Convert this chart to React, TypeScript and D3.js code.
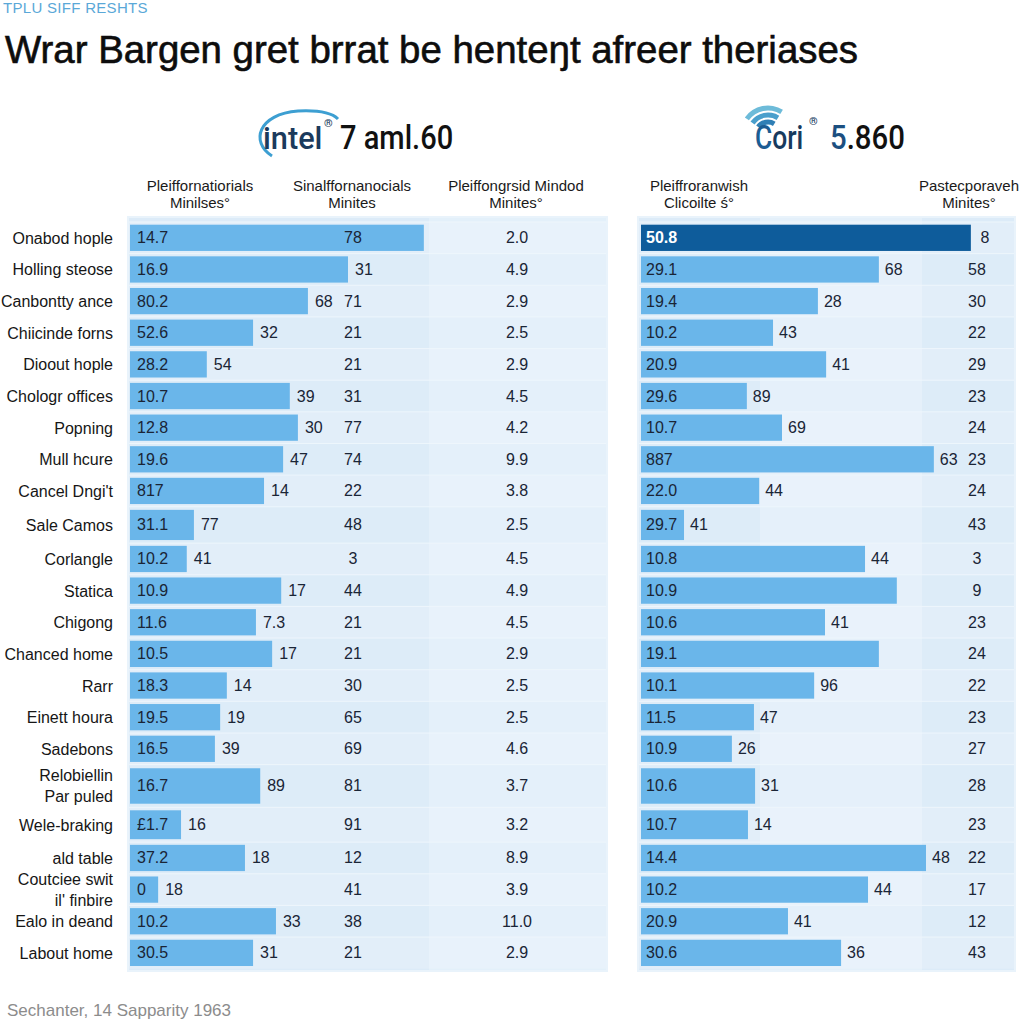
import React from "react";
import * as d3 from "d3";

const rowLabels = ["Onabod hople", "Holling steose", "Canbontty ance", "Chiicinde forns", "Dioout hople", "Chologr offices", "Popning", "Mull hcure", "Cancel Dngi't", "Sale Camos", "Corlangle", "Statica", "Chigong", "Chanced home", "Rarr", "Einett houra", "Sadebons", "Relobiellin\nPar puled", "Wele-braking", "ald table", "Coutciee swit\nil' finbire", "Ealo in deand", "Labout home"];

// left panel (intel)
const leftBar = [61.6, 45.7, 37.3, 25.8, 16.1, 33.5, 35.2, 32.1, 28.1, 13.4, 11.9, 31.7, 26.4, 29.8, 20.3, 18.9, 17.8, 27.3, 10.7, 24.1, 5.9, 30.6, 25.8];
const leftInside = ["14.7", "16.9", "80.2", "52.6", "28.2", "10.7", "12.8", "19.6", "817", "31.1", "10.2", "10.9", "11.6", "10.5", "18.3", "19.5", "16.5", "16.7", "£1.7", "37.2", "0", "10.2", "30.5"];
const leftEnd = ["", "31", "68", "32", "54", "39", "30", "47", "14", "77", "41", "17", "7.3", "17", "14", "19", "39", "89", "16", "18", "18", "33", "31"];
const leftCol3 = ["78", "", "71", "21", "21", "31", "77", "74", "22", "48", "3", "44", "21", "21", "30", "65", "69", "81", "91", "12", "41", "38", "21"];
const leftCol4 = ["2.0", "4.9", "2.9", "2.5", "2.9", "4.5", "4.2", "9.9", "3.8", "2.5", "4.5", "4.9", "4.5", "2.9", "2.5", "2.5", "4.6", "3.7", "3.2", "8.9", "3.9", "11.0", "2.9"];

// right panel (Cori)
const rightBar = [88.2, 63.6, 47.3, 35.3, 49.5, 28.3, 37.7, 78.3, 31.6, 11.5, 59.9, 68.4, 49.2, 63.6, 46.3, 30.2, 24.3, 30.5, 28.6, 76.2, 60.7, 39.3, 53.5];
const rightInside = ["50.8", "29.1", "19.4", "10.2", "20.9", "29.6", "10.7", "887", "22.0", "29.7", "10.8", "10.9", "10.6", "19.1", "10.1", "11.5", "10.9", "10.6", "10.7", "14.4", "10.2", "20.9", "30.6"];
const rightEnd = ["", "68", "28", "43", "41", "89", "69", "63", "44", "41", "44", "", "41", "", "96", "47", "26", "31", "14", "48", "44", "41", "36"];
const rightCol = ["8", "58", "30", "22", "29", "23", "24", "23", "24", "43", "3", "9", "23", "24", "22", "23", "27", "28", "23", "22", "17", "12", "43"];

const leftHeaders = [["Pleiffornatiorials", "Minilses°"], ["Sinalffornanocials", "Minites"], ["Pleiffongrsid Mindod", "Minites°"]];
const rightHeaders = [["Pleiffroranwish", "Clicoilte ś°"], ["Pastecporaveh", "Minites°"]];

const kicker = "TPLU SIFF RESHTS";
const title = "Wrar Bargen gret brrat be henteŋt afreer theriases";
const footer = "Sechanter, 14 Sapparity 1963";

const FONT = "'Liberation Sans', Arial, sans-serif";
const LOGO_FONT = "Roboto, 'Liberation Sans', sans-serif";

export default function App() {
  // row layout (a few rows are taller in the original)
  const weight = (i: number) => (i === 17 ? 1.35 : i === 9 ? 1.15 : i === 18 ? 1.1 : 1);
  const total = d3.sum(rowLabels, (_, i) => weight(i));
  const top0 = 222;
  const bottom0 = top0 + total * 31.64;
  const yUnit = d3.scaleLinear().domain([0, total]).range([top0, bottom0]);
  const starts = d3.cumsum(rowLabels.map((_, i) => weight(i))).map((c, i) => c - weight(i));
  const rowTop = (i: number) => yUnit(starts[i]);
  const rowH = (i: number) => yUnit(starts[i] + weight(i)) - yUnit(starts[i]);
  const rowC = (i: number) => rowTop(i) + rowH(i) / 2;
  const barH = (i: number) => rowH(i) * 0.83;

  const xL = d3.scaleLinear().domain([0, 100]).range([130, 607]);
  const xR = d3.scaleLinear().domain([0, 100]).range([641, 1015]);

  const panelTop = 217;
  const panelBot = 971;

  const barColor = "#6ab6ea";
  const darkBar = "#0e5c9b";
  const textDark = "#1a2536";

  return (
    <svg width={1024} height={1024} style={{ position: "absolute", left: 0, top: 0, background: "#fff" }} fontFamily={FONT}>
      <rect x={0} y={0} width={1024} height={1024} fill="#ffffff" />
      <text x={3} y={13} fontSize={15} fill="#5aa8d8" letterSpacing={0.3}>{kicker}</text>
      <text x={5} y={63} fontSize={38} fill="#0d0d0d" stroke="#0d0d0d" strokeWidth={0.6} textLength={853} lengthAdjust="spacingAndGlyphs">{title}</text>

      {/* intel logo */}
      <g fontFamily={LOGO_FONT} fontWeight={500}>
        <path d="M 272,156 C 250,142 258,114 298,111 C 318,110 332,113 338,119" fill="none" stroke="#3d9fd2" strokeWidth={3} />
        <g transform="translate(263,149) scale(0.96,1)">
          <text x={0} y={0} fontSize={32} fill="#1b3a5c">intel</text>
        </g>
        <text x={324} y={127} fontSize={11} fill="#1b3a5c">®</text>
        <g transform="translate(340,149) scale(0.88,1)">
          <text x={0} y={0} fontSize={33} fill="#111">7 aml.60</text>
        </g>
      </g>
      {/* Cori logo */}
      <g>
        {[12, 19, 26].map((r, k) => (
          <path key={k}
            d={d3.arc()({ innerRadius: r - 2.5, outerRadius: r + 2.5, startAngle: -0.95, endAngle: 0.55 }) as string}
            transform="translate(768,134)" fill={["#2f7fb5", "#4a9fcc", "#6dbbd9"][k]} />
        ))}
      </g>
      <g fontFamily={LOGO_FONT} fontWeight={500} fontSize={33}>
        <g transform="translate(755,149) scale(0.8,1)">
          <text x={0} y={0}>
            <tspan fill="#1c5d93">C</tspan><tspan fill="#173a5e">ori</tspan>
          </text>
        </g>
        <text x={809} y={125} fontSize={11} fill="#173a5e">®</text>
        <g transform="translate(830,149) scale(0.89,1)">
          <text x={0} y={0}>
            <tspan fill="#1c4f80">5</tspan><tspan fill="#111">.860</tspan>
          </text>
        </g>
      </g>

      {/* column headers */}
      {[200, 352, 516].map((cx, k) => (
        <text key={"lh" + k} x={cx} textAnchor="middle" fontSize={15} fill="#1a1a1a">
          <tspan x={cx} y={191}>{leftHeaders[k][0]}</tspan>
          <tspan x={cx} y={208}>{leftHeaders[k][1]}</tspan>
        </text>
      ))}
      {[699, 969].map((cx, k) => (
        <text key={"rh" + k} x={cx} textAnchor="middle" fontSize={15} fill="#1a1a1a">
          <tspan x={cx} y={191}>{rightHeaders[k][0]}</tspan>
          <tspan x={cx} y={208}>{rightHeaders[k][1]}</tspan>
        </text>
      ))}

      {/* panel backgrounds */}
      <rect x={128} y={panelTop} width={479} height={panelBot - panelTop} fill="#dcebf8" />
      <rect x={429} y={panelTop} width={178} height={panelBot - panelTop} fill="#e3f0fa" />
      <rect x={638} y={panelTop} width={377} height={panelBot - panelTop} fill="#dcebf8" />
      <rect x={760} y={panelTop} width={162} height={panelBot - panelTop} fill="#e4f0fa" />
      {rowLabels.map((_, i) => (
        <g key={"st" + i}>
          <rect x={128} y={rowTop(i)} width={479} height={rowH(i)} fill="#ffffff" opacity={i % 2 === 0 ? 0.18 : 0.05} />
          <rect x={638} y={rowTop(i)} width={377} height={rowH(i)} fill="#ffffff" opacity={i % 2 === 0 ? 0.18 : 0.05} />
          <line x1={128} x2={607} y1={rowTop(i)} y2={rowTop(i)} stroke="#eef6fc" strokeWidth={1} />
          <line x1={638} x2={1015} y1={rowTop(i)} y2={rowTop(i)} stroke="#eef6fc" strokeWidth={1} />
        </g>
      ))}
      <rect x={128} y={panelTop} width={479} height={panelBot - panelTop} fill="none" stroke="#e9f3fb" strokeWidth={2} />
      <rect x={638} y={panelTop} width={377} height={panelBot - panelTop} fill="none" stroke="#e9f3fb" strokeWidth={2} />

      {/* rows */}
      {rowLabels.map((lab, i) => {
        const cy = rowC(i);
        const lines = lab.split("\n");
        const lh = 21;
        const y0 = cy - ((lines.length - 1) * lh) / 2;
        const bh = barH(i);
        const lEnd = xL(leftBar[i]);
        const rEnd = xR(rightBar[i]);
        return (
          <g key={"row" + i} fontSize={16}>
            <text textAnchor="end" fill="#161616" dominantBaseline="central">
              {lines.map((ln, k) => (
                <tspan key={k} x={113} y={y0 + k * lh}>{ln}</tspan>
              ))}
            </text>
            <rect x={xL(0)} y={cy - bh / 2} width={lEnd - xL(0)} height={bh} fill={barColor} />
            <text x={xL(0) + 7} y={cy} dominantBaseline="central" fill={textDark}>{leftInside[i]}</text>
            {leftEnd[i] && <text x={lEnd + 7} y={cy} dominantBaseline="central" fill={textDark}>{leftEnd[i]}</text>}
            {leftCol3[i] && <text x={353} y={cy} textAnchor="middle" dominantBaseline="central" fill={textDark}>{leftCol3[i]}</text>}
            <text x={517} y={cy} textAnchor="middle" dominantBaseline="central" fill={textDark}>{leftCol4[i]}</text>

            <rect x={xR(0)} y={cy - bh / 2} width={rEnd - xR(0)} height={bh} fill={i === 0 ? darkBar : barColor} />
            <text x={xR(0) + 5} y={cy} dominantBaseline="central" fill={i === 0 ? "#ffffff" : textDark} fontWeight={i === 0 ? "bold" : "normal"}>{rightInside[i]}</text>
            {rightEnd[i] && <text x={rEnd + 6} y={cy} dominantBaseline="central" fill={textDark}>{rightEnd[i]}</text>}
            <text x={i === 0 ? 985 : 977} y={cy} textAnchor="middle" dominantBaseline="central" fill={textDark}>{rightCol[i]}</text>
          </g>
        );
      })}

      <text x={7} y={1016} fontSize={17} fill="#8c8c8c">{footer}</text>
    </svg>
  );
}
